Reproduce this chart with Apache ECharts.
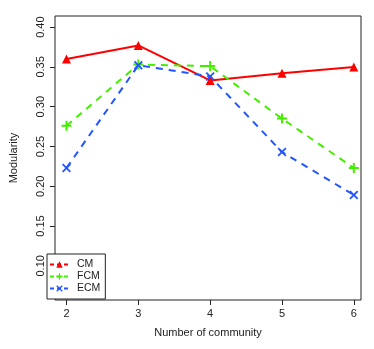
<!DOCTYPE html>
<html>
<head>
<meta charset="utf-8">
<script src="https://cdn.jsdelivr.net/npm/echarts@6/dist/echarts.min.js"></script>
<style>
  html, body { margin: 0; padding: 0; background: #fff; }
  #chart { width: 374px; height: 349px; }
</style>
</head>
<body>
<div id="chart"></div>
<script>
  // data
  var communities = [2, 3, 4, 5, 6];
  var cmValues  = [0.360, 0.377, 0.333, 0.342, 0.350];
  var fcmValues = [0.276, 0.353, 0.351, 0.285, 0.223];
  var ecmValues = [0.223, 0.352, 0.338, 0.243, 0.189];
  var yTicks = [0.10, 0.15, 0.20, 0.25, 0.30, 0.35, 0.40];
  var xTicks = [2, 3, 4, 5, 6];

  var plusPath = 'path://M4,0 L6,0 L6,4 L10,4 L10,6 L6,6 L6,10 L4,10 L4,6 L0,6 L0,4 L4,4 Z';
  var crossPath = 'path://M0,1.4 L1.4,0 L5,3.6 L8.6,0 L10,1.4 L6.4,5 L10,8.6 L8.6,10 L5,6.4 L1.4,10 L0,8.6 L3.6,5 Z';

  function pairs(vals) {
    return communities.map(function (c, i) { return [c, vals[i]]; });
  }

  let myChart = echarts.init(document.getElementById('chart'));
  let font = 'Liberation Sans, Arial, sans-serif';
  let option = {
    animation: false,
    grid: {
      left: 47, right: 13, top: 16, bottom: 49,
      show: true,
      borderColor: '#222',
      borderWidth: 1
    },
    legend: {
      orient: 'vertical',
      left: 47, top: 254,
      padding: [5, 5, 5, 2],
      itemGap: 1,
      itemWidth: 19,
      itemHeight: 8,
      borderColor: '#222',
      borderWidth: 1,
      backgroundColor: '#fff',
      textStyle: { fontFamily: font, fontSize: 10.5, color: '#222', padding: [0, 0, 0, 3] },
      data: [
        { name: 'CM', lineStyle: { type: [4, 3] } },
        { name: 'FCM', lineStyle: { type: [4, 3] } },
        { name: 'ECM', lineStyle: { type: [4, 3] } }
      ]
    },
    xAxis: {
      type: 'value',
      min: 1.84, max: 6.1,
      name: 'Number of community',
      nameLocation: 'middle',
      nameGap: 27,
      nameTextStyle: { fontFamily: font, fontSize: 11, color: '#222' },
      axisLine: { show: false },
      splitLine: { show: false },
      axisTick: { show: true, length: 5, customValues: xTicks, lineStyle: { color: '#222' } },
      axisLabel: { customValues: xTicks, fontFamily: font, fontSize: 11, color: '#222', margin: 8 }
    },
    yAxis: {
      type: 'value',
      min: 0.057, max: 0.414,
      name: 'Modularity',
      nameLocation: 'middle',
      nameGap: 36,
      nameTextStyle: { fontFamily: font, fontSize: 11, color: '#222' },
      axisLine: { show: false },
      splitLine: { show: false },
      axisTick: { show: true, length: 5, customValues: yTicks, lineStyle: { color: '#222' } },
      axisLabel: {
        customValues: yTicks, rotate: 90, fontFamily: font, fontSize: 11, color: '#222', margin: 9,
        formatter: function (v) { return v.toFixed(2); }
      }
    },
    series: [
      {
        name: 'CM', type: 'line', data: pairs(cmValues),
        color: '#ff0000',
        symbol: 'triangle', symbolSize: 9,
        lineStyle: { width: 2, color: '#ff0000' },
        itemStyle: { color: '#ff0000' }
      },
      {
        name: 'FCM', type: 'line', data: pairs(fcmValues),
        color: '#44ee00',
        symbol: plusPath, symbolSize: 10,
        lineStyle: { width: 2, type: [7, 6], color: '#44ee00' },
        itemStyle: { color: '#44ee00' }
      },
      {
        name: 'ECM', type: 'line', data: pairs(ecmValues),
        color: '#2255ff',
        symbol: crossPath, symbolSize: 9,
        lineStyle: { width: 2, type: [7, 6], color: '#2255ff' },
        itemStyle: { color: '#2255ff' }
      }
    ]
  };
  myChart.setOption(option);
</script>
</body>
</html>
